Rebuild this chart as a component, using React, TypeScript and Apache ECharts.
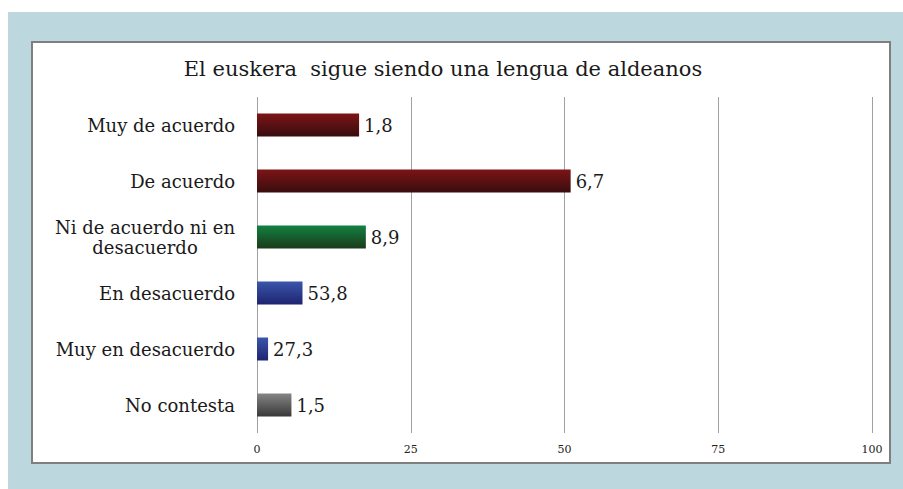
import React, { useEffect, useRef } from "react";
import * as echarts from "echarts";

const categories = [
  "Muy de acuerdo",
  "De acuerdo",
  "Ni de acuerdo ni en\ndesacuerdo",
  "En desacuerdo",
  "Muy en desacuerdo",
  "No contesta",
];
// bar lengths as drawn in the picture
const barValues = [16.6, 51.0, 17.7, 7.4, 1.8, 5.6];
// labels as printed next to the bars
const barLabels = ["1,8", "6,7", "8,9", "53,8", "27,3", "1,5"];
const xTicks = [0, 25, 50, 75, 100];
const titleText = "El euskera  sigue siendo una lengua de aldeanos";

const gradients: [string, string][] = [
  ["#7d1416", "#380d0f"],
  ["#7d1416", "#380d0f"],
  ["#128140", "#1b3a1a"],
  ["#3a56aa", "#1e2470"],
  ["#3a56aa", "#1e2470"],
  ["#858585", "#383838"],
];

const FONT = "'DejaVu Serif', serif";

export default function App() {
  const ref = useRef<HTMLDivElement>(null);
  useEffect(() => {
    if (!ref.current) return;
    const chart = echarts.init(ref.current, null, { renderer: "svg" });
    chart.setOption({
      animation: false,
      backgroundColor: "#bcd8de",
      graphic: [
        {
          type: "rect",
          shape: { x: 24, y: 30, width: 858, height: 421 },
          style: { fill: "#ffffff", stroke: "#7f7f7f", lineWidth: 2 },
          z: -10,
        },
        {
          type: "text",
          x: 435,
          y: 57,
          style: {
            text: titleText,
            fontFamily: FONT,
            fontSize: 21,
            fill: "#1a1a1a",
            align: "center",
            verticalAlign: "middle",
          },
        },
      ],
      grid: { left: 249, right: 31, top: 85, bottom: 56 },
      xAxis: {
        type: "value",
        min: 0,
        max: 100,
        interval: 25,
        axisLine: { show: false },
        axisTick: { show: false },
        splitLine: { show: true, lineStyle: { color: "#a0a0a0", width: 1 } },
        axisLabel: {
          fontFamily: FONT,
          fontSize: 11,
          color: "#222",
          margin: 11,
          formatter: (v: number) => (xTicks.includes(v) ? String(v) : ""),
        },
      },
      yAxis: {
        type: "category",
        inverse: true,
        data: categories,
        axisLine: { show: false },
        axisTick: { show: false },
        axisLabel: {
          fontFamily: FONT,
          fontSize: 18,
          color: "#1a1a1a",
          margin: 22,
          lineHeight: 20,
          align: "right",
          formatter: (v: string) => {
            if (v.indexOf("\n") < 0) return v;
            return v
              .split("\n")
              .map((line) => "{c|" + line + "}")
              .join("\n");
          },
          rich: {
            c: {
              fontFamily: FONT,
              fontSize: 18,
              color: "#1a1a1a",
              lineHeight: 20,
              width: 180,
              align: "center",
            },
          },
        },
      },
      series: [
        {
          type: "bar",
          barWidth: 23,
          data: barValues.map((v, i) => ({
            value: v,
            itemStyle: {
              color: new echarts.graphic.LinearGradient(0, 0, 0, 1, [
                { offset: 0, color: gradients[i][0] },
                { offset: 1, color: gradients[i][1] },
              ]),
            },
          })),
          label: {
            show: true,
            position: "right",
            distance: 5,
            fontFamily: FONT,
            fontSize: 18,
            color: "#1a1a1a",
            formatter: (p: any) => barLabels[p.dataIndex],
          },
        },
      ],
    });
    return () => chart.dispose();
  }, []);
  return (
    <div
      ref={ref}
      style={{ position: "absolute", left: 8, top: 12, width: 895, height: 477 }}
    />
  );
}
